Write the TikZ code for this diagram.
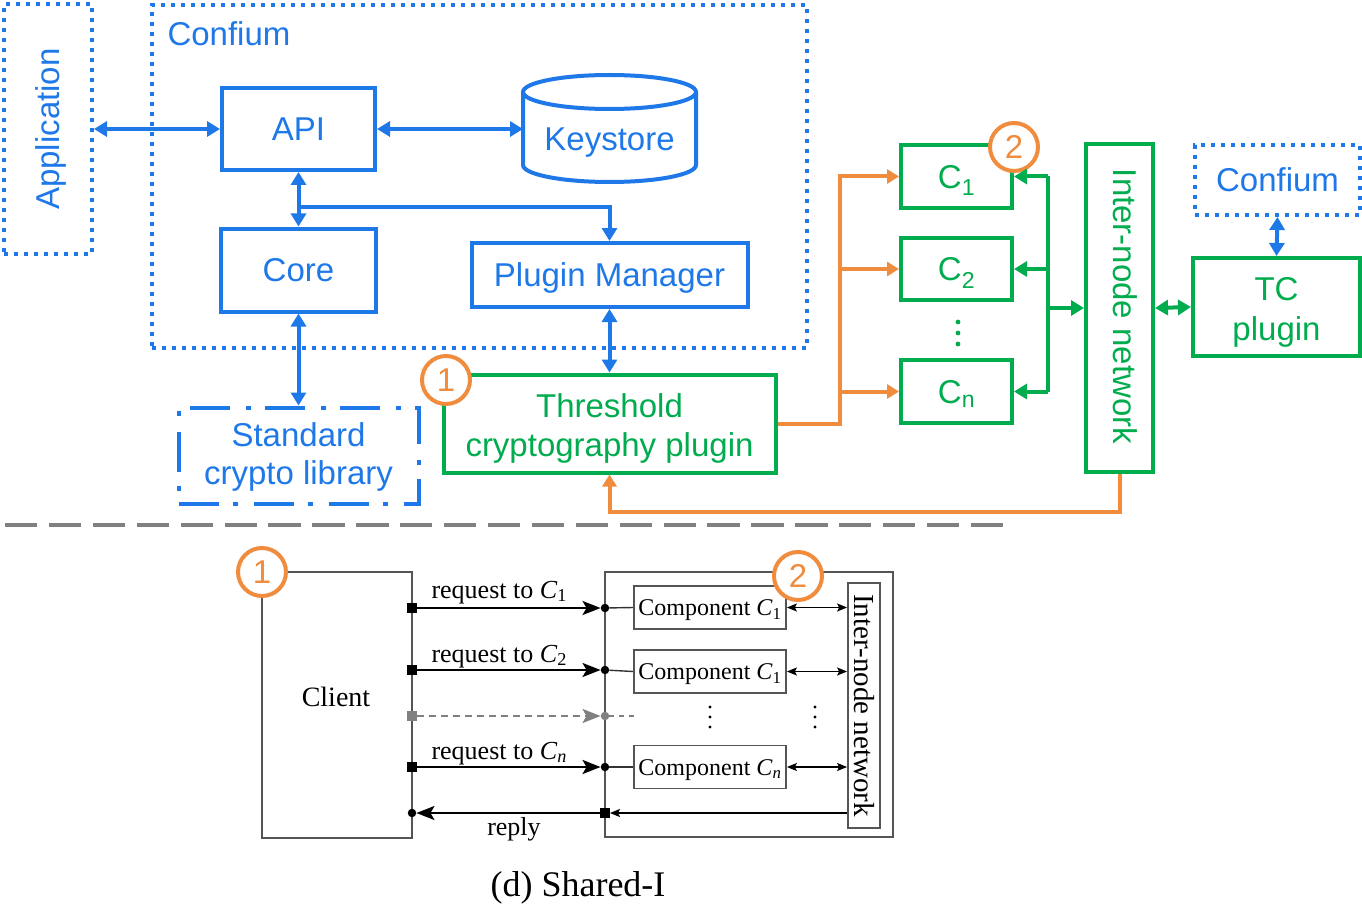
\documentclass[tikz,border=0pt]{standalone}
\usepackage{fontspec}
\setmainfont{Liberation Serif}
\newfontfamily\sansf{Liberation Sans}
\usetikzlibrary{arrows.meta,calc}
\definecolor{blueC}{RGB}{30,120,232}
\definecolor{greenC}{RGB}{0,172,78}
\definecolor{orangeC}{RGB}{240,140,62}
\definecolor{sepgray}{RGB}{128,128,128}
\definecolor{framegray}{RGB}{85,85,85}
\begin{document}
\begin{tikzpicture}[x=1pt,y=-1pt,
  sf/.style={font=\sansf\fontsize{33}{40}\selectfont},
  capc/.style={text height=23.6pt,text depth=0pt},
  bbox/.style={draw=blueC,line width=4pt,sf,text=blueC,inner sep=0pt,capc},
  gbox/.style={draw=greenC,line width=4pt,sf,text=greenC,inner sep=0pt,capc},
  dotb/.style={draw=blueC,line width=4pt,dash pattern=on 4pt off 6pt},
  dashdotb/.style={draw=blueC,line width=4pt,dash pattern=on 40pt off 14pt on 5pt off 16pt},
  bline/.style={draw=blueC,line width=4pt,>={Triangle[length=13pt,width=15pt]}},
  gline/.style={draw=greenC,line width=4pt,>={Triangle[length=13pt,width=15pt]}},
  oline/.style={draw=orangeC,line width=4pt,>={Triangle[length=12pt,width=14pt]}},
  numc/.style={circle,draw=orangeC,line width=4pt,fill=white,text=orangeC,minimum size=48pt,inner sep=0pt,sf,capc},
  frame/.style={draw=framegray,line width=1.8pt,inner sep=0pt},
  sqm/.style={rectangle,fill=black,minimum size=9.5pt,inner sep=0pt},
  dtm/.style={circle,fill=black,minimum size=8.5pt,inner sep=0pt},
  rarr/.style={draw=black,line width=2.3pt,-{Stealth[length=18pt,width=14pt,inset=4pt]}},
  sarr/.style={draw=black,line width=1.5pt,-{Stealth[length=10pt,width=8pt,inset=2pt]}},
  sdarr/.style={draw=black,line width=1.5pt,{Stealth[length=10pt,width=8pt,inset=2pt]}-{Stealth[length=10pt,width=8pt,inset=2pt]}},
  comp/.style={frame,minimum width=152pt,minimum height=43pt,font=\fontsize{24}{28}\selectfont,text height=16pt,text depth=0pt},
  lbl/.style={font=\fontsize{26}{30}\selectfont}
]
\useasboundingbox (0,0) rectangle (1362,920);

% ---------------- top part ----------------
\node[dotb,minimum width=88pt,minimum height=250pt] (app) at (48,129) {};
\node[sf,text=blueC,rotate=90] (apptxt) at (51,129) {Application};

\node[dotb,minimum width=655pt,minimum height=343pt] (conf) at (479.5,176.5) {};
\node[sf,text=blueC,anchor=west] (conftxt) at (164,34) {Confium};

\node[bbox,minimum width=153pt,minimum height=82pt] (api) at (298.5,129) {API};
\node[bbox,minimum width=155pt,minimum height=83pt] (core) at (298.5,270) {Core};
\node[bbox,minimum width=276pt,minimum height=64pt] (pm) at (609.5,275) {Plugin Manager};

% keystore cylinder
\draw[blueC,line width=4pt] (523,92) -- (523,165) arc[start angle=180,end angle=0,x radius=86.5,y radius=17] -- (696,92);
\draw[blueC,line width=4pt] (609.5,92) ellipse[x radius=86.5,y radius=17];
\node[sf,text=blueC,capc] (ks) at (609.5,138.5) {Keystore};
\coordinate (ksw) at (523,129);

\node[gbox,minimum width=332pt,minimum height=98pt] (tcp) at (609.5,423.5) {};
\node[sf,text=greenC,anchor=base] (tcpt1) at (609.5,417) {Threshold};
\node[sf,text=greenC,anchor=base] (tcpt2) at (609.5,456) {cryptography plugin};
\node[dashdotb,minimum width=240pt,minimum height=96pt,inner sep=0pt] (std) at (298.5,455.5) {};
\node[sf,text=blueC,anchor=base] (stdt1) at (298.5,446) {Standard};
\node[sf,text=blueC,anchor=base] (stdt2) at (298.5,484) {crypto library};

\node[numc] (n1) at (446,380) {1};

% blue connectors
\draw[bline,<->] (app.east) -- (api.west);
\draw[bline,<->] (api.east) -- (ksw);
\draw[bline,<->] (api.south) -- (core.north);
\coordinate (j1) at (298.5,207);
\draw[bline,->] (j1) -| (pm.north);
\draw[bline,<->] (core.south) -- (std.north);
\draw[bline,<->] (pm.south) -- (tcp.north);

% components
\node[gbox,minimum width=111pt,minimum height=63pt] (c1) at (956.5,176.5) {C\textsubscript{1}};
\node[gbox,minimum width=111pt,minimum height=62pt] (c2) at (956.5,269) {C\textsubscript{2}};
\node[gbox,minimum width=111pt,minimum height=63pt] (cn) at (956.5,391.5) {C\textsubscript{n}};
\fill[greenC] (958,322) circle[radius=2.4] (958,333) circle[radius=2.4] (958,344) circle[radius=2.4];

\node[gbox,minimum width=67pt,minimum height=328pt] (inw) at (1119.5,308) {};
\node[sf,text=greenC,rotate=-90] (inwtxt) at (1125,306.5) {Inter-node network};

\node[numc] (n2) at (1014,147) {2};

% orange bus
\coordinate (obus) at (840,0);
\draw[oline,->] (tcp.east) -| (obus |- c1.west) -- (c1.west);
\draw[oline,->] (obus |- c2.west) -- (c2.west);
\draw[oline,->] (obus |- cn.west) -- (cn.west);
\draw[oline,->] (inw.south) -- ++(0,38) -| (tcp.south);

% green bus
\coordinate (gbus) at (1048,0);
\draw[gline] (gbus |- c1.east) -- (gbus |- cn.east);
\draw[gline,->] (gbus |- c1.east) -- (c1.east);
\draw[gline,->] (gbus |- c2.east) -- (c2.east);
\draw[gline,->] (gbus |- cn.east) -- (cn.east);
\draw[gline,->] (gbus |- inw.west) -- (inw.west);

% right side
\node[dotb,sf,capc,text=blueC,minimum width=165pt,minimum height=70pt,inner sep=0pt] (conf2) at (1277.5,180) {Confium};
\node[gbox,minimum width=167pt,minimum height=98pt] (tc) at (1276.5,307) {};
\node[sf,text=greenC,anchor=base] (tct1) at (1276.5,300) {TC};
\node[sf,text=greenC,anchor=base] (tct2) at (1276.5,340) {plugin};
\draw[bline,<->] (conf2.south) -- (tc.north);
\draw[gline,<->] (inw.east) -- (tc.west);

% separator
\draw[sepgray,line width=3.3pt,dash pattern=on 32.3pt off 11.6pt] (5,525) -- (1003,525);

% ---------------- bottom part ----------------
\node[frame,minimum width=150pt,minimum height=266pt] (client) at (337,705) {};
\node[font=\fontsize{28}{32}\selectfont] (clienttxt) at (336,697) {Client};
\node[frame,minimum width=288pt,minimum height=265pt] (rb) at (749,704.5) {};
\node[frame,minimum width=32pt,minimum height=245pt] (inw2) at (864,705.5) {};
\node[rotate=-90,font=\fontsize{29}{32}\selectfont] (inw2txt) at (864,705.5) {Inter-node network};

\node[comp] (k1) at (710,607.5) {Component \textit{C}\textsubscript{1}};
\node[comp] (k2) at (710,671.5) {Component \textit{C}\textsubscript{1}};
\node[comp] (kn) at (710,767) {Component \textit{C}\textsubscript{\textit{n}}};

\node[sqm] (s1) at (412,608) {};
\node[sqm] (s2) at (412,670) {};
\node[sqm,fill=sepgray] (s3) at (412,716) {};
\node[sqm] (s4) at (412,767) {};
\node[dtm] (d1) at (605,608) {};
\node[dtm] (d2) at (605,670) {};
\node[dtm,fill=sepgray] (d3) at (605,716) {};
\node[dtm] (d4) at (605,767) {};

\draw[rarr] (s1) -- (d1);
\draw[rarr] (s2) -- (d2);
\draw[rarr,draw=sepgray,dash pattern=on 7pt off 5pt,-{Stealth[length=18pt,width=14pt,inset=4pt,fill=sepgray]}] (s3) -- (d3);
\draw[rarr] (s4) -- (d4);
\draw[sepgray,line width=1.3pt,dash pattern=on 5pt off 5pt] (d3) -- (636,716);

\node[lbl,anchor=base west] (r1) at (428,598) {request to \textit{C}\textsubscript{1}};
\node[lbl,anchor=base west] (r2) at (428,662) {request to \textit{C}\textsubscript{2}};
\node[lbl,anchor=base west] (rn) at (428,759) {request to \textit{C}\textsubscript{\textit{n}}};

\draw[black!80,line width=1.4pt] (d1) -- (k1.west);
\draw[black!80,line width=1.4pt] (d2) -- (k2.west);
\draw[black!80,line width=1.4pt] (d4) -- (kn.west);
\draw[sdarr] (k1.east) -- (k1.east -| inw2.west);
\draw[sdarr] (k2.east) -- (k2.east -| inw2.west);
\draw[sdarr] (kn.east) -- (kn.east -| inw2.west);

\node[sqm] (s5) at (605,813) {};
\node[dtm] (d5) at (412,813) {};
\draw[sarr] (inw2.west |- s5) -- (s5);
\draw[rarr] (s5) -- (d5);
\node[lbl] (replytxt) at (514,829) {reply};

\fill[black] (710,707) circle[radius=1.7] (710,717) circle[radius=1.7] (710,727) circle[radius=1.7];
\fill[black] (815,707) circle[radius=1.7] (815,717) circle[radius=1.7] (815,727) circle[radius=1.7];

\node[numc] (b1) at (262,572) {1};
\node[numc] (b2) at (798,576) {2};

\node[font=\fontsize{36}{40}\selectfont] (caption) at (578,888) {(d) Shared-I};
\end{tikzpicture}
\end{document}
